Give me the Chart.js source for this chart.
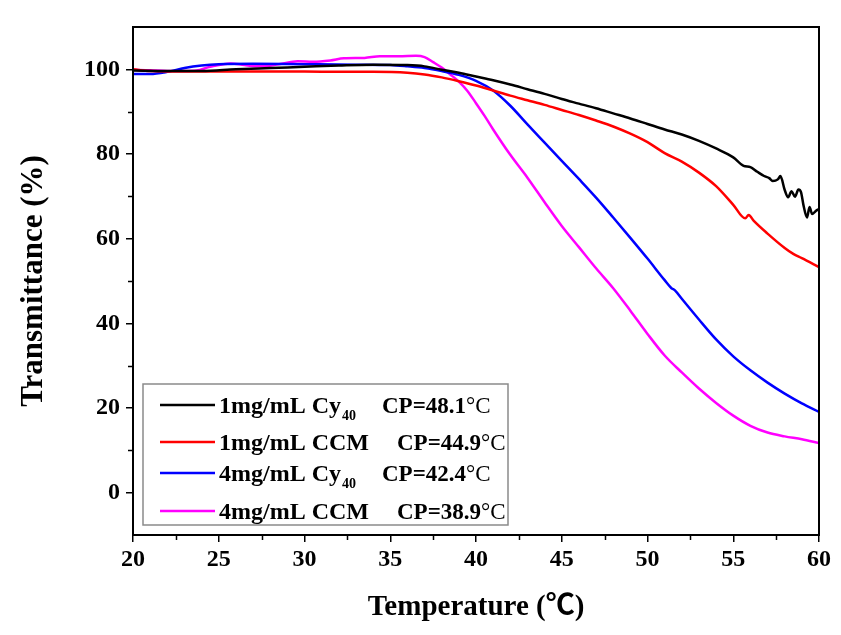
<!DOCTYPE html>
<html>
<head>
<meta charset="utf-8">
<script src="https://cdn.jsdelivr.net/npm/chart.js@4.4.1/dist/chart.umd.min.js"></script>
<style>
    body { margin: 0; background: #fff; }
    #contenedor { width: 841px; height: 635px; }
</style>
</head>
<body>
<div id="contenedor"><canvas id="char_transmitancia" width="841" height="635"></canvas></div>
<script>
// temperatura (°C) y transmitancia (%) de cada muestra
var temp_cy40_1 = [20, 22, 24, 26, 28, 30, 32, 34, 36, 37, 38, 39, 40, 41, 42, 43, 44, 45, 46, 47, 48, 49, 50, 51, 52, 53, 54, 55,
    55.6, 56, 56.4, 56.8, 57.1, 57.3, 57.6, 57.75, 58, 58.2, 58.4, 58.6, 58.8, 58.95, 59.1, 59.3, 59.45, 59.6, 59.8, 60];
var trans_cy40_1 = [99.7, 99.6, 99.6, 100.0, 100.3, 100.6, 100.9, 101.1, 101.0, 100.7, 99.9, 99.2, 98.3, 97.4, 96.4, 95.3, 94.2, 93.0, 91.9, 90.8, 89.6, 88.4, 87.1, 85.8, 84.6, 83.1, 81.3, 79.2,
    77.2, 76.9, 75.8, 74.8, 74.3, 73.6, 74.0, 74.8, 71.5, 69.8, 71.2, 69.9, 71.6, 71.0, 67.8, 65.0, 67.5, 65.8, 66.5, 67.0];

var temp_ccm_1 = [20, 21, 22, 24, 26, 28, 30, 32, 34, 36, 37, 38, 39, 40, 41, 42, 43, 44, 45, 46, 47, 48, 49, 50, 51, 52, 53, 54, 55,
    55.7, 55.9, 56.2, 57, 58, 58.5, 59, 60];
var trans_ccm_1 = [100.0, 99.6, 99.5, 99.5, 99.5, 99.5, 99.5, 99.4, 99.4, 99.2, 98.8, 98.1, 97.2, 96.2, 95.0, 93.8, 92.7, 91.6, 90.4, 89.2, 87.9, 86.5, 84.8, 82.8, 80.2, 78.2, 75.6, 72.4, 68.0,
    64.8, 65.6, 64.2, 61.2, 57.8, 56.4, 55.4, 53.3];

var temp_cy40_4 = [20, 21, 22, 23, 24, 25, 27, 30, 33, 35, 36, 37, 38, 39, 40, 41, 42, 43, 44, 45, 46, 47, 48, 49, 50, 51,
    51.4, 51.6, 52, 53, 54, 55, 56, 57, 58, 59, 60];
var trans_cy40_4 = [98.9, 98.9, 99.4, 100.3, 100.9, 101.2, 101.3, 101.2, 101.1, 101.0, 100.7, 100.3, 99.6, 98.7, 97.3, 95.0, 91.4, 87.0, 82.7, 78.4, 74.1, 69.7, 65.0, 60.2, 55.3, 50.2,
    48.3, 47.8, 45.8, 40.9, 36.2, 32.2, 28.9, 26.0, 23.4, 21.1, 19.1];

var temp_ccm_4 = [20, 21, 22, 23, 23.7, 24.5, 25.7, 26.5, 27.4, 28.5, 29.6, 30.5, 31.5, 32.3, 33.5, 34.4, 35.5, 36.5,
    37, 37.5, 38, 38.5, 39, 39.5, 40, 40.5, 41, 42, 43, 44, 45, 46, 47, 48, 49, 50, 51, 52, 53, 54, 55, 56, 57, 58, 59, 60];
var trans_ccm_4 = [99.9, 99.8, 99.6, 99.6, 99.7, 100.6, 101.4, 101.0, 100.7, 101.2, 101.9, 101.8, 102.1, 102.6, 102.7, 103.1, 103.1, 103.2,
    102.9, 101.7, 100.4, 98.8, 97.1, 94.9, 92.0, 89.0, 85.8, 79.8, 74.4, 68.6, 63.0, 58.0, 53.0, 48.3, 43.0, 37.5, 32.4, 28.4, 24.6, 21.2, 18.2, 15.8, 14.2, 13.3, 12.6, 11.7];

// leyenda: nombre, subindice, punto de enturbiamiento
var nombres = ["1mg/mL Cy", "1mg/mL CCM", "4mg/mL Cy", "4mg/mL CCM"];
var subindices = ["40", "", "40", ""];
var puntos_cp = ["CP=48.1", "CP=44.9", "CP=42.4", "CP=38.9"];

// marcas de los ejes
var x_ticks = [20, 25, 30, 35, 40, 45, 50, 55, 60];
var x_menores = [22.5, 27.5, 32.5, 37.5, 42.5, 47.5, 52.5, 57.5];
var y_ticks = [0, 20, 40, 60, 80, 100];
var y_menores = [10, 30, 50, 70, 90];

var color_borde = ["#000000", "#ff0000", "#0000ff", "#ff00ff"];
var fuente = "'Liberation Serif', 'Times New Roman', 'Noto Sans CJK SC', serif";

function puntos(xs, ys) {
    return xs.map(function (x, i) {
        return { x: x, y: ys[i] };
    });
}

var series = [
    puntos(temp_cy40_1, trans_cy40_1),
    puntos(temp_ccm_1, trans_ccm_1),
    puntos(temp_cy40_4, trans_cy40_4),
    puntos(temp_ccm_4, trans_ccm_4),
];

var marco = {
    id: "marco",
    afterDraw: function (chart) {
        var ctx = chart.ctx;
        var a = chart.chartArea;
        var sx = chart.scales.x;
        var sy = chart.scales.y;
        ctx.save();

        // caja completa
        ctx.strokeStyle = "#000";
        ctx.lineWidth = 2;
        ctx.strokeRect(a.left, a.top, a.right - a.left, a.bottom - a.top);

        // marcas menores
        ctx.lineWidth = 1.5;
        ctx.beginPath();
        x_menores.forEach(function (v) {
            var px = Math.round(sx.getPixelForValue(v)) + 0.5;
            ctx.moveTo(px, a.bottom);
            ctx.lineTo(px, a.bottom + 5);
        });
        y_menores.forEach(function (v) {
            var py = Math.round(sy.getPixelForValue(v)) + 0.5;
            ctx.moveTo(a.left, py);
            ctx.lineTo(a.left - 5, py);
        });
        ctx.stroke();

        // leyenda
        var caja = { x: 143, y: 384, w: 365, h: 141 };
        var filas = [405, 442, 473, 511];
        var cp_x = [382, 397, 382, 397];
        ctx.fillStyle = "#fff";
        ctx.fillRect(caja.x, caja.y, caja.w, caja.h);
        ctx.strokeStyle = "#8a8a8a";
        ctx.lineWidth = 1.5;
        ctx.strokeRect(caja.x, caja.y, caja.w, caja.h);

        ctx.textAlign = "left";
        ctx.textBaseline = "alphabetic";
        nombres.forEach(function (nombre, i) {
            var y = filas[i];
            ctx.strokeStyle = chart.data.datasets[i].borderColor;
            ctx.lineWidth = 2.5;
            ctx.beginPath();
            ctx.moveTo(160, y);
            ctx.lineTo(215, y);
            ctx.stroke();

            ctx.fillStyle = "#000";
            ctx.font = "bold 24px " + fuente;
            ctx.fillText(nombre, 219, y + 8);
            var w = ctx.measureText(nombre).width;
            if (subindices[i]) {
                ctx.font = "bold 14px " + fuente;
                ctx.fillText(subindices[i], 219 + w + 1, y + 15);
            }
            ctx.font = "bold 23px " + fuente;
            ctx.fillText(puntos_cp[i], cp_x[i], y + 8);
            var w2 = ctx.measureText(puntos_cp[i]).width;
            ctx.font = "23px " + fuente;
            ctx.fillText("\u00b0C", cp_x[i] + w2, y + 8);
        });
        ctx.restore();
    },
};

var ctx_trans = document.getElementById("char_transmitancia");
var char_transmitancia = new Chart(ctx_trans, {
    type: "line",
    data: {
        datasets: series.map(function (datos, i) {
            return {
                label: nombres[i] + subindices[i] + " " + puntos_cp[i] + "\u00b0C",
                data: datos,
                borderColor: color_borde[i],
                backgroundColor: color_borde[i],
                borderWidth: 2.5,
                pointRadius: 0,
                fill: false,
                cubicInterpolationMode: "monotone",
            };
        }),
    },
    options: {
        responsive: false,
        animation: false,
        layout: {
            padding: { top: 27, right: 22, left: 0, bottom: 0 },
        },
        plugins: {
            legend: { display: false },
            tooltip: { enabled: false },
        },
        scales: {
            x: {
                type: "linear",
                min: 20,
                max: 60,
                afterBuildTicks: function (s) {
                    s.ticks = x_ticks.map(function (v) { return { value: v }; });
                },
                afterFit: function (s) {
                    s.height = 100;
                },
                grid: {
                    display: true,
                    drawOnChartArea: false,
                    drawTicks: true,
                    tickLength: 7,
                    color: "#000",
                    lineWidth: 1.5,
                },
                border: { display: false },
                ticks: {
                    color: "#000",
                    padding: 3,
                    maxRotation: 0,
                    font: { family: fuente, size: 24, weight: "bold" },
                },
                title: {
                    display: true,
                    text: "Temperature (\u2103)",
                    color: "#000",
                    padding: { top: 0, bottom: 10 },
                    font: { family: fuente, size: 29, weight: "bold" },
                },
            },
            y: {
                type: "linear",
                min: -10,
                max: 110,
                afterBuildTicks: function (s) {
                    s.ticks = y_ticks.map(function (v) { return { value: v }; });
                },
                afterFit: function (s) {
                    s.width = 133;
                },
                grid: {
                    display: true,
                    drawOnChartArea: false,
                    drawTicks: true,
                    tickLength: 7,
                    color: "#000",
                    lineWidth: 1.5,
                },
                border: { display: false },
                ticks: {
                    color: "#000",
                    padding: 6,
                    font: { family: fuente, size: 24, weight: "bold" },
                },
                title: {
                    display: true,
                    text: "Transmittance (%)",
                    color: "#000",
                    padding: { top: 15, bottom: 0 },
                    font: { family: fuente, size: 31, weight: "bold" },
                },
            },
        },
    },
    plugins: [marco],
});
</script>
</body>
</html>
